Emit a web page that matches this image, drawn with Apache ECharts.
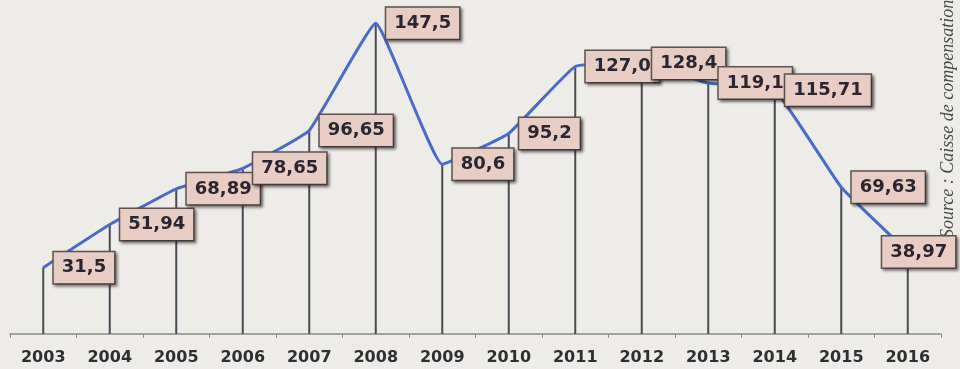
<!DOCTYPE html>
<html>
<head>
<meta charset="utf-8">
<script src="https://cdn.jsdelivr.net/npm/echarts@6/dist/echarts.min.js"></script>
<style>
  html, body { margin: 0; padding: 0; background: #edece8; }
  #chart { width: 960px; height: 369px; }
</style>
</head>
<body>
<div id="chart"></div>
<script>
// années et valeurs
var years = ["2003", "2004", "2005", "2006", "2007", "2008", "2009",
  "2010", "2011", "2012", "2013", "2014", "2015", "2016"];
var values = [31.5, 51.94, 68.89, 78.65, 96.65, 147.5, 80.6,
  95.2, 127.0, 128.4, 119.1, 115.71, 69.63, 38.97];
// texte des étiquettes (virgule décimale, comme sur l'original)
var labels = ["31,5", "51,94", "68,89", "78,65", "96,65", "147,5", "80,6",
  "95,2", "127,0", "128,4", "119,1", "115,71", "69,63", "38,97"];

var chart = echarts.init(document.getElementById("chart"));

var lineData = values.map(function (v, i) {
  var item = { value: v };
  if (i === values.length - 1) {
    // la dernière étiquette est décalée à gauche
    item.label = { distance: -26 };
  }
  return item;
});

var option = {
  backgroundColor: "#edece8",
  animation: false,
  grid: {
    left: 10,
    right: 19,
    top: 18,
    bottom: 35
  },
  xAxis: {
    type: "category",
    data: years,
    boundaryGap: true,
    axisLine: {
      lineStyle: { color: "#8a8a8a", width: 1.5 }
    },
    axisTick: {
      show: true,
      length: 4,
      lineStyle: { color: "#8a8a8a" }
    },
    axisLabel: {
      margin: 16,
      color: "#2f2f33",
      fontFamily: "DejaVu Sans",
      fontWeight: "bold",
      fontSize: 16
    }
  },
  yAxis: {
    type: "value",
    min: 0,
    max: 150,
    show: false,
    splitLine: { show: false }
  },
  graphic: [
    {
      type: "text",
      x: 948,
      y: 238,
      rotation: Math.PI / 2,
      style: {
        text: "Source : Caisse de compensation",
        fill: "#4a4a4a",
        font: "italic 18px 'Liberation Serif'",
        textAlign: "left",
        textVerticalAlign: "middle"
      }
    }
  ],
  series: [
    {
      // traits verticaux jusqu'à l'axe
      type: "bar",
      data: values,
      barWidth: 2,
      itemStyle: { color: "#4b4b55" },
      silent: true,
      z: 1
    },
    {
      type: "line",
      data: lineData,
      smooth: 0.1,
      symbol: "circle",
      symbolSize: 1,
      showSymbol: true,
      itemStyle: { color: "#4a6cc8" },
      lineStyle: { color: "#4a6cc8", width: 3 },
      z: 2,
      labelLayout: { hideOverlap: false },
      label: {
        show: true,
        position: "right",
        distance: 10,
        formatter: function (p) {
          return labels[p.dataIndex];
        },
        color: "#2a2631",
        fontFamily: "DejaVu Sans",
        fontWeight: "bold",
        fontSize: 18,
        backgroundColor: "#e8cdc5",
        borderColor: "#5f5250",
        borderWidth: 1.5,
        padding: [7, 8, 6, 8],
        shadowColor: "rgba(0,0,0,0.45)",
        shadowBlur: 3,
        shadowOffsetX: 2,
        shadowOffsetY: 2
      }
    }
  ]
};

chart.setOption(option);
</script>
</body>
</html>
